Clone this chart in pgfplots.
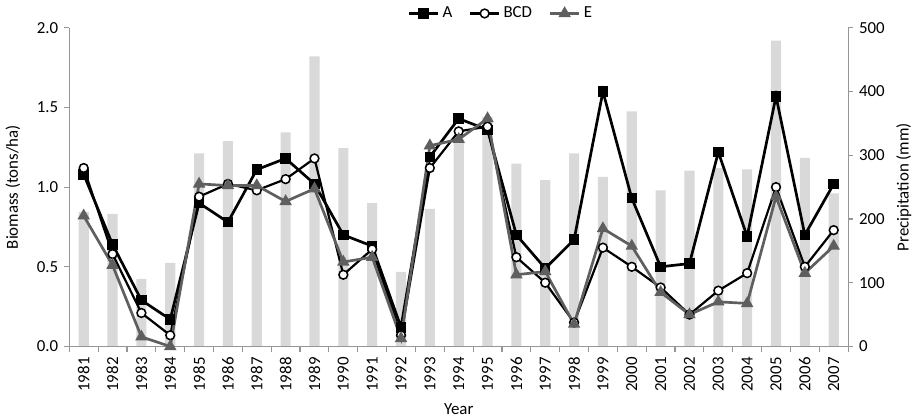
\documentclass[border=0pt]{standalone}
\usepackage{pgfplots}
\usepackage{pgfplotstable}
\pgfplotsset{compat=1.18}
\usepackage{fontspec}
\setmainfont{Carlito}

\definecolor{bargray}{RGB}{217,217,217}
\definecolor{axisgray}{RGB}{150,150,150}
\definecolor{egray}{RGB}{95,95,95}

% idx year precip A BCD E
\pgfplotstableread{
idx year prec A BCD E
0  1981 211 1.08 1.12 0.82
1  1982 208 0.64 0.58 0.51
2  1983 106 0.29 0.21 0.06
3  1984 131 0.17 0.07 0.00
4  1985 303 0.90 0.94 1.02
5  1986 322 0.78 1.02 1.01
6  1987 255 1.11 0.98 1.01
7  1988 336 1.18 1.05 0.91
8  1989 455 1.02 1.18 0.99
9  1990 311 0.70 0.45 0.53
10 1991 225 0.63 0.61 0.56
11 1992 117 0.12 0.07 0.05
12 1993 216 1.19 1.12 1.26
13 1994 325 1.43 1.35 1.30
14 1995 360 1.36 1.38 1.43
15 1996 287 0.70 0.56 0.45
16 1997 261 0.49 0.40 0.47
17 1998 303 0.67 0.15 0.14
18 1999 266 1.60 0.62 0.74
19 2000 369 0.93 0.50 0.63
20 2001 245 0.50 0.37 0.34
21 2002 276 0.52 0.20 0.20
22 2003 280 1.22 0.35 0.28
23 2004 278 0.69 0.46 0.27
24 2005 480 1.57 1.00 0.94
25 2006 296 0.70 0.50 0.46
26 2007 240 1.02 0.73 0.63
}\datatable

\begin{document}
\begin{tikzpicture}
\pgfplotsset{
  every axis/.append style={
    scale only axis, width=462pt, height=189pt,
    xmin=-0.5, xmax=26.5,
    /pgf/number format/assume math mode=true,
    tick label style={font=\fontsize{10}{12}\selectfont},
    label style={font=\fontsize{10}{12}\selectfont},
    axis line style={draw=axisgray, line width=0.7pt},
    every tick/.style={draw=axisgray, line width=0.7pt},
    tick align=outside,
    major tick length=3pt,
    minor tick length=3.5pt,
  }
}

% precipitation bars, right axis
\begin{axis}[
    axis y line*=right,
    axis x line=none,
    ymin=0, ymax=500,
    ytick={0,100,...,500},
    ylabel={Precipitation (mm)},
]
  \addplot[ybar, bar width=6pt, fill=bargray, draw=none] table[x=idx, y=prec] {\datatable};
\end{axis}

% biomass lines, left axis
\begin{axis}[
    axis y line*=left,
    axis x line*=bottom,
    ymin=0, ymax=2,
    ytick={0,0.5,...,2},
    yticklabel style={/pgf/number format/.cd, fixed, fixed zerofill, precision=1},
    ylabel={Biomass (tons/ha)},
    ylabel style={yshift=3pt},
    xlabel={Year},
    xtick={0,...,26},
    xticklabels={1981,1982,1983,1984,1985,1986,1987,1988,1989,1990,1991,1992,1993,1994,1995,1996,1997,1998,1999,2000,2001,2002,2003,2004,2005,2006,2007},
    x tick label style={rotate=90, anchor=east},
    major x tick style={draw=none},
    minor xtick={-0.5,0.5,...,26.5},
    legend columns=3,
    legend style={draw=none, fill=none, at={(0.555,1.045)}, anchor=center,
      font=\fontsize{10}{12}\selectfont,
      /tikz/every even column/.append style={column sep=8pt}},
    legend cell align=left,
]
  \addplot[black, line width=1.6pt, mark=square*, mark size=2.3pt,
    mark options={solid, fill=black}] table[x=idx, y=A] {\datatable};
  \addlegendentry{A}
  \addplot[black, line width=1.3pt, mark=*, mark size=2.6pt,
    mark options={solid, fill=white, line width=0.9pt}] table[x=idx, y=BCD] {\datatable};
  \addlegendentry{BCD}
  \addplot[egray, line width=1.6pt, mark=triangle*, mark size=2.7pt,
    mark options={solid, fill=egray}] table[x=idx, y=E] {\datatable};
  \addlegendentry{E}
\end{axis}
\end{tikzpicture}
\end{document}
